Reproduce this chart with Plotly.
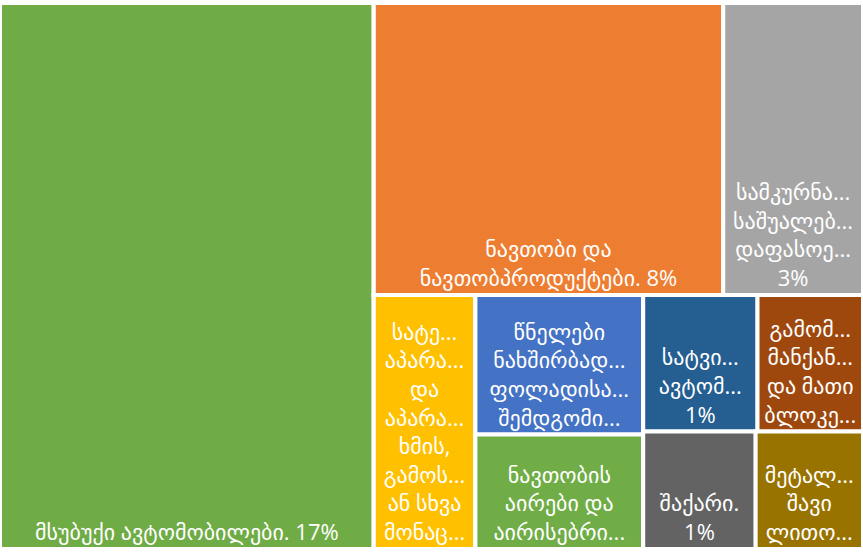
"""Treemap: import structure (Georgian labels), Excel-style tiling."""

import plotly.graph_objects as go

# leaf tiles, in drawing order
ids = ["cars", "oil", "med", "tel", "rods", "gas", "trucks", "engines", "sugar", "metal"]
labels = [
    "მსუბუქი ავტომობილები. 17%",
    "ნავთობი და\nნავთობპროდუქტები. 8%",
    "სამკურნა...\nსაშუალებ...\nდაფასოე...\n3%",
    "სატე...\nაპარა...\nდა\nაპარა...\nხმის,\nგამოს...\nან სხვა\nმონაც...",
    "წნელები\nნახშირბად...\nფოლადისა...\nშემდგომი...",
    "ნავთობის\nაირები და\nაირისებრი...",
    "სატვი...\nავტომ...\n1%",
    "გამომ...\nმანქან...\nდა მათი\nბლოკე...",
    "შაქარი.\n1%",
    "მეტალ...\nშავი\nლითო...",
]
values = [17.0, 8.5, 3.4, 2.15, 1.95, 1.6, 1.3, 1.2, 1.1, 1.05]
colors = ["#6FAC46", "#ED7D31", "#A5A5A5", "#FFC000", "#4472C4",
          "#70AD47", "#255E91", "#9E480E", "#636363", "#997300"]

# hidden grouping boxes that reproduce Excel's strip layout
groups = {"root": "", "rest": "root", "top": "rest", "bottom": "rest",
          "col_b": "bottom", "block": "bottom", "row_a": "block", "row_b": "block"}
leaf_parents = ["root", "top", "top", "bottom", "col_b", "col_b", "row_a", "row_a", "row_b", "row_b"]

# depth-first order so siblings come out left-to-right / top-to-bottom
children = {}
for g, p in groups.items():
    children.setdefault(p, []).append(g)
for leaf, p in zip(ids, leaf_parents):
    children.setdefault(p, []).append(leaf)
order_hint = {"root": ["cars", "rest"], "rest": ["top", "bottom"],
              "bottom": ["tel", "col_b", "block"], "block": ["row_a", "row_b"]}

all_ids, all_parents, all_labels, all_values, all_colors = [], [], [], [], []


def walk(node, parent):
    all_ids.append(node)
    all_parents.append(parent)
    if node in ids:
        i = ids.index(node)
        all_labels.append(labels[i].replace("\n", "<br>"))
        all_values.append(values[i])
        all_colors.append(colors[i])
    else:
        all_labels.append("")
        all_values.append(0)
        all_colors.append("#FFFFFF")
    for c in order_hint.get(node, children.get(node, [])):
        walk(c, node)


walk("root", "")

fig = go.Figure(go.Treemap(
    ids=all_ids,
    labels=all_labels,
    parents=all_parents,
    values=all_values,
    branchvalues="remainder",
    sort=False,
    tiling={"packing": "slice-dice", "pad": 0},
    marker={"colors": all_colors, "line": {"color": "#FFFFFF", "width": 4},
            "pad": {"t": 0, "l": 0, "r": 0, "b": 0}},
    pathbar={"visible": False},
    texttemplate="%{label}",
    textposition="bottom center",
    textfont={"family": "Open Sans, DejaVu Sans, sans-serif", "size": 22, "color": "#FFFFFF"},
    hoverinfo="skip",
))

fig.update_layout(
    width=863,
    height=553,
    margin=dict(l=0, r=0, t=3, b=4),
    paper_bgcolor="#FFFFFF",
    uniformtext={"minsize": 22, "mode": "show"},
)

# drop the browser's default 8px body margin so the chart sits at the window edge
fig.write_html("out.html", config={"displayModeBar": False},
               post_script="document.body.style.margin = '0';")
